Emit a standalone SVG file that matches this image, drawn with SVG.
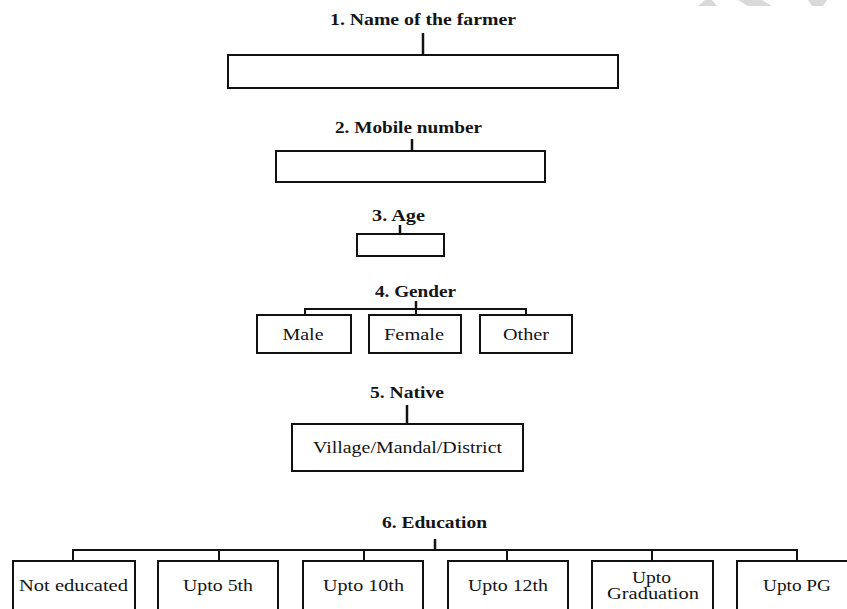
<svg xmlns="http://www.w3.org/2000/svg" width="847" height="609" viewBox="0 0 847 609">
<style>
.bg{fill:#fff}
.box{fill:#fff;stroke:#111;stroke-width:2}
.ln{fill:none;stroke:#111;stroke-width:2}
.stem{fill:none;stroke:#111;stroke-width:2.5}
.t{font-family:"Liberation Serif","Times New Roman",serif;font-weight:bold;font-size:17.5px;fill:#141414}
.l{font-family:"Liberation Serif","Times New Roman",serif;font-size:16px;fill:#141414;text-anchor:middle}
.wm{fill:#d9d9d9}
</style>
<rect class="bg" x="0" y="0" width="847" height="609"/>
<g id="watermark">
<polygon class="wm" points="698,6 717,6 712,0 705,0"/>
<polygon class="wm" points="738,0 762,0 772,6 748,6"/>
<polygon class="wm" points="808,0 827,0 823,6 812,6"/>
</g>
<g id="connectors">
<line class="stem" x1="423" y1="33" x2="423" y2="55"/>
<line class="stem" x1="412" y1="139" x2="412" y2="151"/>
<line class="stem" x1="400" y1="225" x2="400" y2="234"/>
<line class="stem" x1="416" y1="301" x2="416" y2="309"/>
<polyline class="ln" points="305,315 305,309 526,309 526,315"/>
<line class="ln" x1="416" y1="309" x2="416" y2="315"/>
<line class="stem" x1="407" y1="405" x2="407" y2="424"/>
<line class="stem" x1="435" y1="539" x2="435" y2="550"/>
<polyline class="ln" points="73,561 73,550 797,550 797,561"/>
<line class="ln" x1="219" y1="550" x2="219" y2="561"/>
<line class="ln" x1="364" y1="550" x2="364" y2="561"/>
<line class="ln" x1="507" y1="550" x2="507" y2="561"/>
<line class="ln" x1="652" y1="550" x2="652" y2="561"/>
</g>
<g id="q1">
<text class="t" x="330" y="25" textLength="186" lengthAdjust="spacingAndGlyphs">1. Name of the farmer</text>
<rect class="box" x="228" y="55" width="390" height="33"/>
</g>
<g id="q2">
<text class="t" x="335" y="133" textLength="147" lengthAdjust="spacingAndGlyphs">2. Mobile number</text>
<rect class="box" x="276" y="151" width="269" height="31"/>
</g>
<g id="q3">
<text class="t" x="372" y="221" textLength="53" lengthAdjust="spacingAndGlyphs">3. Age</text>
<rect class="box" x="357" y="234" width="87" height="22"/>
</g>
<g id="q4">
<text class="t" x="375" y="297" textLength="81" lengthAdjust="spacingAndGlyphs">4. Gender</text>
</g>
<g id="male">
<rect class="box" x="257" y="315" width="94" height="38"/>
<text class="l" x="303" y="340" textLength="41" lengthAdjust="spacingAndGlyphs">Male</text>
</g>
<g id="female">
<rect class="box" x="369" y="315" width="92" height="38"/>
<text class="l" x="414" y="340" textLength="60" lengthAdjust="spacingAndGlyphs">Female</text>
</g>
<g id="other">
<rect class="box" x="480" y="315" width="92" height="38"/>
<text class="l" x="526" y="340" textLength="46" lengthAdjust="spacingAndGlyphs">Other</text>
</g>
<g id="q5">
<text class="t" x="370" y="398" textLength="74" lengthAdjust="spacingAndGlyphs">5. Native</text>
<rect class="box" x="292" y="424" width="231" height="47"/>
<text class="l" x="407.5" y="453" textLength="189" lengthAdjust="spacingAndGlyphs">Village/Mandal/District</text>
</g>
<g id="q6">
<text class="t" x="382" y="528" textLength="105" lengthAdjust="spacingAndGlyphs">6. Education</text>
</g>
<g id="not-educated">
<rect class="box" x="13" y="561" width="122" height="60"/>
<text class="l" x="73.5" y="591" textLength="109" lengthAdjust="spacingAndGlyphs">Not educated</text>
</g>
<g id="upto5">
<rect class="box" x="158" y="561" width="120" height="60"/>
<text class="l" x="218" y="591" textLength="70" lengthAdjust="spacingAndGlyphs">Upto 5th</text>
</g>
<g id="upto10">
<rect class="box" x="303" y="561" width="120" height="60"/>
<text class="l" x="363.5" y="591" textLength="81" lengthAdjust="spacingAndGlyphs">Upto 10th</text>
</g>
<g id="upto12">
<rect class="box" x="448" y="561" width="120" height="60"/>
<text class="l" x="508" y="591" textLength="80" lengthAdjust="spacingAndGlyphs">Upto 12th</text>
</g>
<g id="graduation">
<rect class="box" x="592" y="561" width="121" height="60"/>
<text class="l" x="651.5" y="583" textLength="39" lengthAdjust="spacingAndGlyphs">Upto</text>
<text class="l" x="653" y="599" textLength="92" lengthAdjust="spacingAndGlyphs">Graduation</text>
</g>
<g id="uptopg">
<rect class="box" x="737" y="561" width="121" height="60"/>
<text class="l" x="797" y="591" textLength="68" lengthAdjust="spacingAndGlyphs">Upto PG</text>
</g>
</svg>
